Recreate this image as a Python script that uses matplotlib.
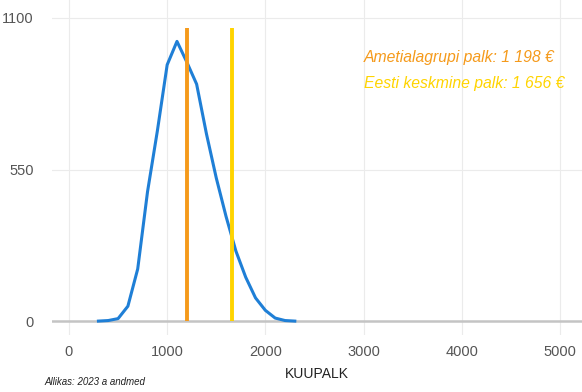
import matplotlib

matplotlib.use("Agg")
import matplotlib.pyplot as plt

plt.rcParams["font.family"] = ["Liberation Sans", "DejaVu Sans"]

# palk (EUR) ja töötajate arv
salary = [300, 400, 500, 600, 700, 800, 900, 1000, 1100, 1200, 1300, 1400, 1500,
          1600, 1700, 1800, 1900, 2000, 2100, 2200, 2300]
count = [1, 3, 10, 55, 190, 470, 690, 930, 1015, 940, 860, 680, 520,
         380, 255, 160, 85, 40, 12, 3, 1]

group_wage = 1198
mean_wage = 1656
line_top = 1065
x_ticks = [0, 1000, 2000, 3000, 4000, 5000]
y_ticks = [0, 550, 1100]

fig = plt.figure(figsize=(5.82, 3.92), dpi=100)
ax = fig.add_axes([0.089, 0.145, 0.911, 0.855])

ax.plot(salary, count, color="#1f7fd6", linewidth=2.2, zorder=3)
ax.vlines(group_wage, 0, line_top, color="#f59a1b", linewidth=2.8, zorder=4)
ax.vlines(mean_wage, 0, line_top, color="#ffd400", linewidth=2.8, zorder=4)
ax.axhline(0, color="#c4c4c4", linewidth=1.8, zorder=2)

ax.text(3000, 958, "Ametialagrupi palk: 1 198 €", color="#f59a1b", style="italic",
        fontsize=11.3, va="center", ha="left")
ax.text(3000, 864, "Eesti keskmine palk: 1 656 €", color="#ffd400", style="italic",
        fontsize=11.3, va="center", ha="left")

ax.set_xlim(-175, 5225)
ax.set_ylim(-50, 1165)
ax.set_xticks(x_ticks)
ax.set_yticks(y_ticks)
ax.tick_params(length=0, labelsize=10.5, labelcolor="#555555")
ax.tick_params(axis="y", pad=13)
ax.tick_params(axis="x", pad=7)
ax.grid(True, color="#ebebeb", linewidth=0.8)
ax.set_axisbelow(True)
for s in ax.spines.values():
    s.set_visible(False)
ax.set_xlabel("KUUPALK", fontsize=10, color="#222222", labelpad=6)

fig.text(0.077, 0.026, "Allikas: 2023 a andmed", fontsize=7, style="italic",
         color="#222222", ha="left", va="center")

fig.savefig("out.png")
